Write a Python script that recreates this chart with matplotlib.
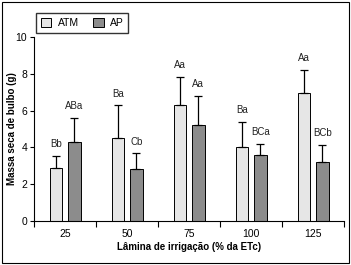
import matplotlib
matplotlib.use('Agg')
import matplotlib.pyplot as plt
from matplotlib.patches import Rectangle
import numpy as np

plt.rcParams['font.family'] = ['Liberation Sans Narrow', 'Liberation Sans', 'DejaVu Sans']

laminas = ['25', '50', '75', '100', '125']
atm = [2.9, 4.5, 6.3, 4.0, 6.95]
atm_err = [0.62, 1.78, 1.55, 1.37, 1.25]
ap = [4.3, 2.8, 5.2, 3.57, 3.2]
ap_err = [1.32, 0.87, 1.62, 0.6, 0.92]
atm_letras = ['Bb', 'Ba', 'Aa', 'Ba', 'Aa']
ap_letras = ['ABa', 'Cb', 'Aa', 'BCa', 'BCb']

fig = plt.figure(figsize=(3.51, 2.65), dpi=100)
ax = fig.add_axes([34 / 351, 44 / 265, 310 / 351, 184 / 265])

x = np.arange(len(laminas))
w = 0.2
d = 0.15
zeros = [0] * len(laminas)
ax.bar(x - d, atm, w, color='#e6e6e6', edgecolor='black', linewidth=0.7,
       yerr=[zeros, atm_err], capsize=3, error_kw=dict(elinewidth=0.9, capthick=0.9),
       label='ATM')
ax.bar(x + d, ap, w, color='#8c8c8c', edgecolor='black', linewidth=0.7,
       yerr=[zeros, ap_err], capsize=3, error_kw=dict(elinewidth=0.9, capthick=0.9),
       label='AP')

for i in range(len(laminas)):
    ax.annotate(atm_letras[i], (x[i] - d, atm[i] + atm_err[i]), xytext=(0, 5),
                textcoords='offset points', ha='center', va='bottom', fontsize=7, color='#222222')
    ax.annotate(ap_letras[i], (x[i] + d, ap[i] + ap_err[i]), xytext=(0, 5),
                textcoords='offset points', ha='center', va='bottom', fontsize=7, color='#222222')

ax.set_xlim(-0.5, 4.5)
ax.set_ylim(0, 10)
ax.set_yticks([0, 2, 4, 6, 8, 10])
ax.set_xticks(x)
ax.set_xticklabels(laminas)
ax.set_xticks(np.arange(-0.5, 5, 1), minor=True)
ax.tick_params(axis='x', which='major', length=0, pad=6, labelsize=7.5)
ax.tick_params(axis='x', which='minor', length=4, width=0.8, direction='out')
ax.tick_params(axis='y', length=3, width=0.8, labelsize=7.5, pad=2)
for s in ['top', 'right']:
    ax.spines[s].set_visible(False)
for s in ['left', 'bottom']:
    ax.spines[s].set_linewidth(0.8)

ax.set_xlabel('Lâmina de irrigação (% da ETc)', fontsize=7, fontweight='bold')
ax.xaxis.set_label_coords(0.5, -(242 - 221) / 184)
ax.set_ylabel('Massa seca de bulbo (g)', fontsize=7, fontweight='bold')
ax.yaxis.set_label_coords(-17 / 310, 0.5)

fig.legend(loc='upper left', bbox_to_anchor=(31 / 351, 1 - 8 / 265), ncol=2,
           fontsize=7.5, frameon=True, fancybox=False, edgecolor='black',
           handlelength=1.0, handleheight=1.0, columnspacing=1.4, handletextpad=0.6,
           borderpad=0.45)

fig.patches.append(Rectangle((0.006, 0.008), 0.988, 0.984, transform=fig.transFigure,
                             fill=False, edgecolor='black', linewidth=0.8))

fig.savefig('out.png', dpi=100)
